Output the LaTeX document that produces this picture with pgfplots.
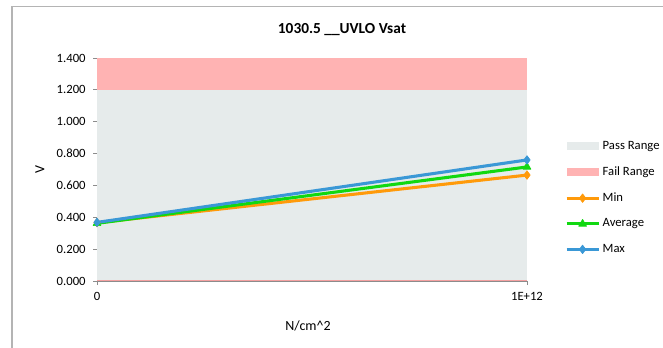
\documentclass[border=0pt]{standalone}
\usepackage{pgfplots}
\pgfplotsset{compat=1.18}
\usepackage{fontspec}
\setmainfont{Carlito}
\definecolor{passgray}{HTML}{E6EBEB}
\definecolor{failpink}{HTML}{FFB3B3}
\definecolor{minorange}{HTML}{FF9A0A}
\definecolor{avggreen}{HTML}{11D811}
\definecolor{maxblue}{HTML}{3A98D6}
\definecolor{axgray}{HTML}{8C8C8C}
\definecolor{framegray}{HTML}{B4B4B4}
\definecolor{zeroline}{HTML}{F4A0A0}
\begin{document}
\begin{tikzpicture}
\useasboundingbox (0,0) rectangle (497.25pt,260.25pt);
\draw[framegray, line width=0.9pt] (9pt,-2pt) -- (9pt,255.5pt) -- (500pt,255.5pt);
\node[font=\fontsize{11.5}{13}\selectfont\bfseries] at (256.5pt,237.75pt) {1030.5 \_\_UVLO Vsat};
\node[font=\fontsize{10.5}{12}\selectfont, rotate=90] at (30pt,132.75pt) {V};
\node[font=\fontsize{10.5}{12}\selectfont] at (231pt,15.75pt) {N/cm\^{}2};
\begin{axis}[
  at={(72.75pt,49.5pt)}, anchor=south west,
  scale only axis, width=322.5pt, height=167.25pt,
  xmin=0, xmax=1e12, ymin=0, ymax=1.4,
  scaled x ticks=false, scaled y ticks=false,
  axis x line*=bottom, axis y line*=left,
  axis line style={axgray, line width=0.6pt},
  every axis plot/.append style={line join=round},
  xtick={0,1e12}, xticklabels={0,1E+12},
  ytick={0,0.2,0.4,0.6,0.8,1.0,1.2,1.4},
  y tick label style={/pgf/number format/fixed, /pgf/number format/fixed zerofill, /pgf/number format/precision=3},
  /pgf/number format/assume math mode=true,
  tick label style={font=\fontsize{9.5}{11}\selectfont, text=black},
  yticklabel style={xshift=-2pt},
  xticklabel style={yshift=-2pt},
  tick align=outside, tick style={axgray, line width=0.6pt},
  major tick length=3pt,
  clip=false,
  legend style={at={(axis description cs:1.088,0.64)}, anchor=north west, draw=none, fill=none,
    font=\fontsize{9.5}{11}\selectfont, row sep=7.5pt, inner sep=0pt,
    legend cell align=left, nodes={inner xsep=2pt}},
  legend image code/.code={\draw[mark repeat=2,mark phase=2] plot coordinates {(0cm,0cm) (0.42cm,0cm) (0.84cm,0cm)};},
]
\addplot[draw=none, fill=passgray, legend image code/.code={\fill[passgray] (0cm,-0.11cm) rectangle (0.84cm,0.11cm);}] coordinates {(0,1.2) (1e12,1.2)} \closedcycle;
\addlegendentry{Pass Range}
\addplot[draw=none, fill=failpink, legend image code/.code={\fill[failpink] (0cm,-0.11cm) rectangle (0.84cm,0.11cm);}] coordinates {(0,1.2) (1e12,1.2) (1e12,1.4) (0,1.4)} -- cycle;
\addlegendentry{Fail Range}
\addplot[forget plot, zeroline, line width=0.5pt] coordinates {(0,0.002) (1e12,0.002)};
\addplot[minorange, line width=2.3pt, mark=diamond*, mark size=3.2pt, mark options={line width=0.5pt}] coordinates {(0,0.366) (1e12,0.665)};
\addlegendentry{Min}
\addplot[avggreen, line width=2.3pt, mark=triangle*, mark size=3.4pt, mark options={line width=0.5pt}] coordinates {(0,0.362) (1e12,0.716)};
\addlegendentry{Average}
\addplot[maxblue, line width=2.3pt, mark=diamond*, mark size=3.2pt, mark options={line width=0.5pt}] coordinates {(0,0.368) (1e12,0.760)};
\addlegendentry{Max}
\end{axis}
\end{tikzpicture}
\end{document}
